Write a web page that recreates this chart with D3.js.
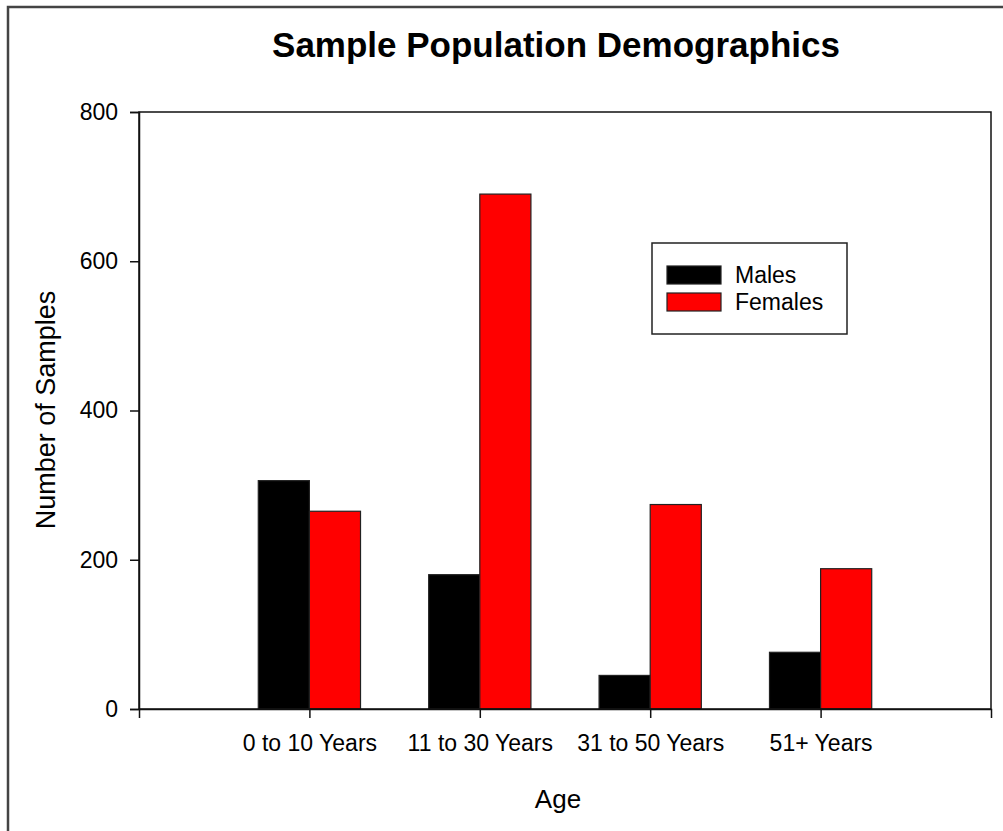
<!DOCTYPE html>
<html>
<head>
<meta charset="utf-8">
<script src="https://cdn.jsdelivr.net/npm/d3@7"></script>
<style>
  body { margin: 0; background: #fff; }
  svg { display: block; font-family: "Liberation Sans", Arial, sans-serif; }
</style>
</head>
<body>
<svg id="chart"></svg>
<script>
const width = 1003;
const height = 831;
const marginTop = 112;
const marginRight = 12;
const marginBottom = 122;
const marginLeft = 139;

const categories = ["0 to 10 Years", "11 to 30 Years", "31 to 50 Years", "51+ Years"];
const males = [306, 180, 45, 76];
const females = [265, 690, 274, 188];
const seriesNames = ["Males", "Females"];
const seriesColors = ["#000000", "#ff0000"];
const yTicks = [0, 200, 400, 600, 800];

const svg = d3.select("#chart")
    .attr("width", width)
    .attr("height", height);

// outer frame (only top/left visible in the original)
svg.append("rect")
    .attr("x", 8).attr("y", 7)
    .attr("width", width + 20).attr("height", height + 20)
    .attr("fill", "none")
    .attr("stroke", "#444")
    .attr("stroke-width", 2.5);

// categories sit at 1..4 on a 0..5 axis
const x = d3.scaleLinear()
    .domain([0, categories.length + 1])
    .range([marginLeft, width - marginRight]);

const y = d3.scaleLinear()
    .domain([0, 800])
    .range([height - marginBottom, marginTop]);

const step = x(1) - x(0);
const barW = step * 0.3;

const data = categories.map((c, i) => ({ cat: c, i: i, values: [males[i], females[i]] }));

const groups = svg.append("g")
    .selectAll("g")
    .data(data)
    .join("g");

groups.selectAll("rect")
    .data(d => d.values.map((v, k) => ({ v: v, k: k, i: d.i })))
    .join("rect")
    .attr("x", d => x(d.i + 1) - barW + d.k * barW)
    .attr("y", d => y(d.v))
    .attr("width", barW)
    .attr("height", d => y(0) - y(d.v))
    .attr("fill", d => seriesColors[d.k])
    .attr("stroke", "#222")
    .attr("stroke-width", 1.2);

// plot frame
svg.append("rect")
    .attr("x", marginLeft)
    .attr("y", marginTop)
    .attr("width", width - marginRight - marginLeft)
    .attr("height", height - marginBottom - marginTop)
    .attr("fill", "none")
    .attr("stroke", "#111")
    .attr("stroke-width", 1.5);

const yAxis = svg.append("g")
    .attr("transform", `translate(${marginLeft},0)`)
    .call(d3.axisLeft(y).tickValues(yTicks).tickSize(9).tickPadding(12).tickFormat(d3.format("d")));

const xAxis = svg.append("g")
    .attr("transform", `translate(0,${height - marginBottom})`)
    .call(d3.axisBottom(x).tickValues(d3.range(1, categories.length + 1))
        .tickSize(9).tickPadding(17).tickFormat(d => categories[d - 1]));

[yAxis, xAxis].forEach(a => {
  a.select(".domain").attr("stroke", "#111").attr("stroke-width", 1.5);
  a.selectAll(".tick line").attr("stroke", "#111").attr("stroke-width", 1.5);
  a.selectAll(".tick text")
      .attr("fill", "#000")
      .style("font-size", "23px")
      .style("font-family", "'Liberation Sans', Arial, sans-serif");
});

// title
svg.append("text")
    .attr("x", 556)
    .attr("y", 57)
    .attr("text-anchor", "middle")
    .style("font-size", "35px")
    .style("font-weight", "bold")
    .text("Sample Population Demographics");

svg.append("text")
    .attr("x", 558)
    .attr("y", 808)
    .attr("text-anchor", "middle")
    .style("font-size", "26px")
    .text("Age");

svg.append("text")
    .attr("transform", "translate(55,410) rotate(-90)")
    .attr("text-anchor", "middle")
    .style("font-size", "27px")
    .text("Number of Samples");

// legend
const legend = svg.append("g").attr("transform", "translate(652,243)");
legend.append("rect")
    .attr("width", 195).attr("height", 91)
    .attr("fill", "#fff")
    .attr("stroke", "#222")
    .attr("stroke-width", 1.5);

const items = legend.selectAll("g.item")
    .data(seriesNames)
    .join("g")
    .attr("class", "item")
    .attr("transform", (d, i) => `translate(15,${23 + i * 27})`);

items.append("rect")
    .attr("width", 54).attr("height", 18)
    .attr("fill", (d, i) => seriesColors[i])
    .attr("stroke", "#222")
    .attr("stroke-width", 1.2);

items.append("text")
    .attr("x", 68)
    .attr("y", 17)
    .style("font-size", "23px")
    .text(d => d);
</script>
</body>
</html>
